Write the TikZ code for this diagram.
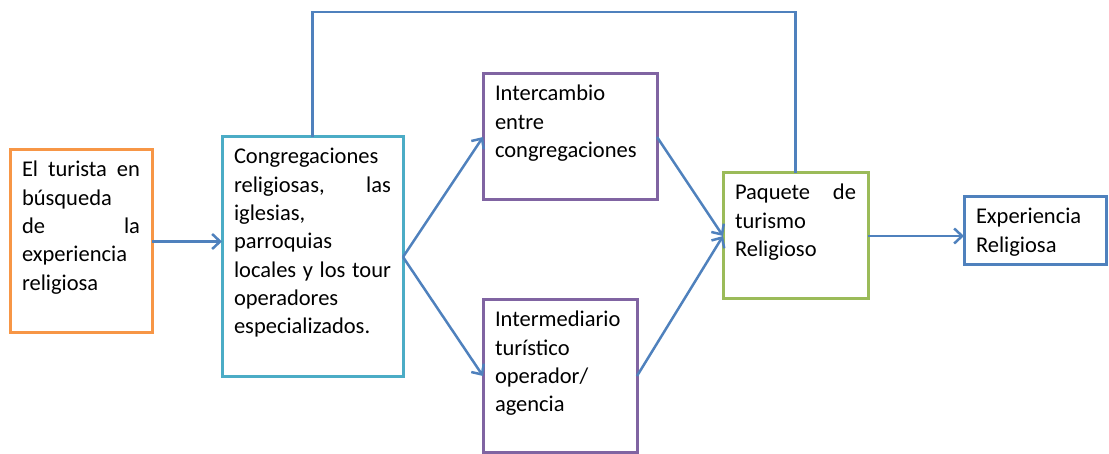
\documentclass[tikz,border=0pt]{standalone}
\usepackage{fontspec}
\setmainfont{Carlito}
\usetikzlibrary{arrows.meta}

\definecolor{boxorange}{HTML}{F79646}
\definecolor{boxcyan}{HTML}{4BACC6}
\definecolor{boxpurple}{HTML}{8064A2}
\definecolor{boxgreen}{HTML}{9BBB59}
\definecolor{boxblue}{HTML}{4F81BD}

\tolerance=10000 \hbadness=10000 \hyphenpenalty=10000

\begin{document}
\begin{tikzpicture}[x = 1pt, y = -1pt, % one unit per pixel, y going down
                > = {Straight Barb[length = 8pt, width = 15pt]}, % arrow head style
                line width = 2.5pt, % line style
                font = \fontsize{22.5}{28.3}\selectfont
            ]

            \tikzstyle{every node}=[draw, rectangle, line width = 3pt,
            anchor = north west, align = justify, inner xsep = 12pt,
            inner ysep = 11pt, outer sep = 0pt, text height = 16pt]

            \clip (0,0) rectangle (1109,454);

            \node (1) [draw = boxorange, text width = 118pt, text depth = 145pt]
            at (10,150) {El turista en\linebreak búsqueda\linebreak de
                la\linebreak experiencia\linebreak religiosa};
            \node (2) [draw = boxcyan, text width = 157pt, text depth = 202pt]
            at (222,137) {Congregaciones\linebreak religiosas,
                las\linebreak iglesias,\linebreak parroquias\linebreak locales y
                los tour\linebreak operadores\linebreak especializados.};
            \node (3) [draw = boxpurple, text width = 150pt, text depth = 88pt]
            at (483,74) {Intercambio\linebreak entre\linebreak congregaciones};
            \node (4) [draw = boxpurple, text width = 130pt, text depth = 114pt]
            at (483,300) {Intermediario\linebreak turístico\linebreak
                operador/\linebreak agencia};
            \node (5) [draw = boxgreen, text width = 121pt, text depth = 88pt]
            at (723,173) {Paquete de\linebreak turismo\linebreak Religioso};
            \node (6) [draw = boxblue, text width = 118pt, text depth = 30pt]
            at (964,197) {Experiencia\linebreak Religiosa};

            \coordinate (up) at (0,12);

            \path[->, color = boxblue] (1.east) edge (1.east -| 2.west);
            \path[->, color = boxblue] (2.east) edge (3.west); \path[->, color
            = boxblue] (2.east) edge (4.west); \path[->, color = boxblue]
            (3.east) edge (5.west); \path[->, color = boxblue] (4.east) edge
            (5.west); \path[->, color = boxblue] (5.east) edge (5.east -|
            6.west);
            \draw[boxblue] (2.north) -- (2.north |- up) -| (5.north);\end{tikzpicture}
\end{document}
